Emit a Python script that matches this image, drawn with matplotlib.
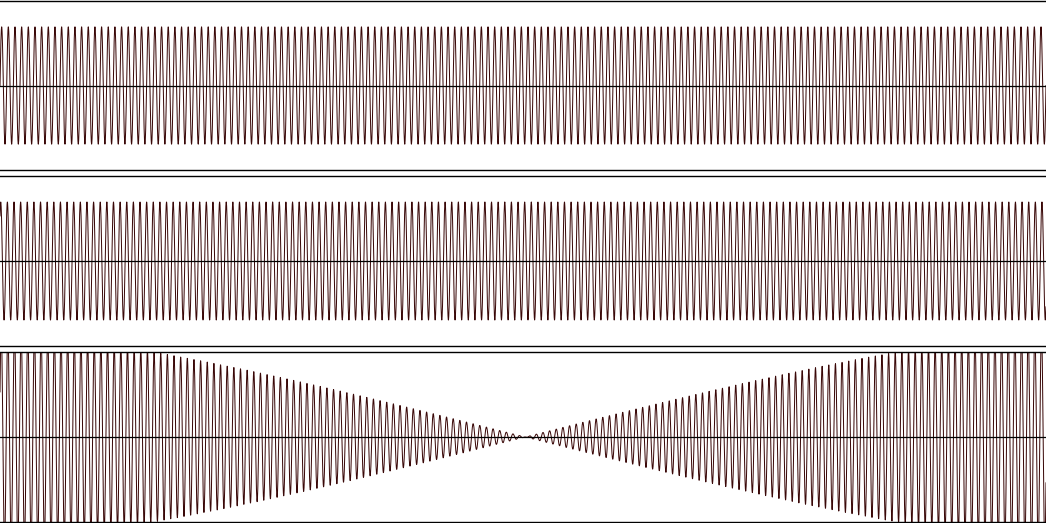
import numpy as np
import matplotlib
matplotlib.use("Agg")
import matplotlib.pyplot as plt

# -----------------------
# Signal parameters
# -----------------------
duration = 1.0          # whole width of each panel
n_samples = 8000
freq_1 = 157.0          # cycles across the width, top panel
freq_2 = 157.72         # second tone, slightly detuned
amp_1 = 1.0
amp_2 = 1.0
phase_2 = 0.87          # puts the beat null near the middle
y_limit = 1.44

line_color = "#3a0808"

t = np.linspace(0, duration, n_samples)
tone_1 = amp_1 * np.sin(2 * np.pi * freq_1 * t)
tone_2 = amp_2 * np.sin(2 * np.pi * freq_2 * t + phase_2)
beat = tone_1 + tone_2

signals = [tone_1, tone_2, beat]

# -----------------------
# Layout (pixel boxes of the three panels)
# -----------------------
W, H = 1046, 523
panel_px = [(1, 170), (176, 346), (352, 522)]   # top, bottom from image top

fig = plt.figure(figsize=(W / 100, H / 100), dpi=100)

for (top, bottom), sig in zip(panel_px, signals):
    ax = fig.add_axes([0, (H - bottom) / H, 1, (bottom - top) / H])
    ax.plot(t, sig, color=line_color, linewidth=0.72)
    ax.axhline(0, color="black", linewidth=0.9)
    ax.set_xlim(t[0], t[-1])
    ax.set_ylim(-y_limit, y_limit)
    ax.set_xticks([])
    ax.set_yticks([])
    ax.spines["left"].set_visible(False)
    ax.spines["right"].set_visible(False)
    ax.spines["top"].set_linewidth(1.0)
    ax.spines["bottom"].set_linewidth(1.0)

fig.savefig("out.png", dpi=100)
